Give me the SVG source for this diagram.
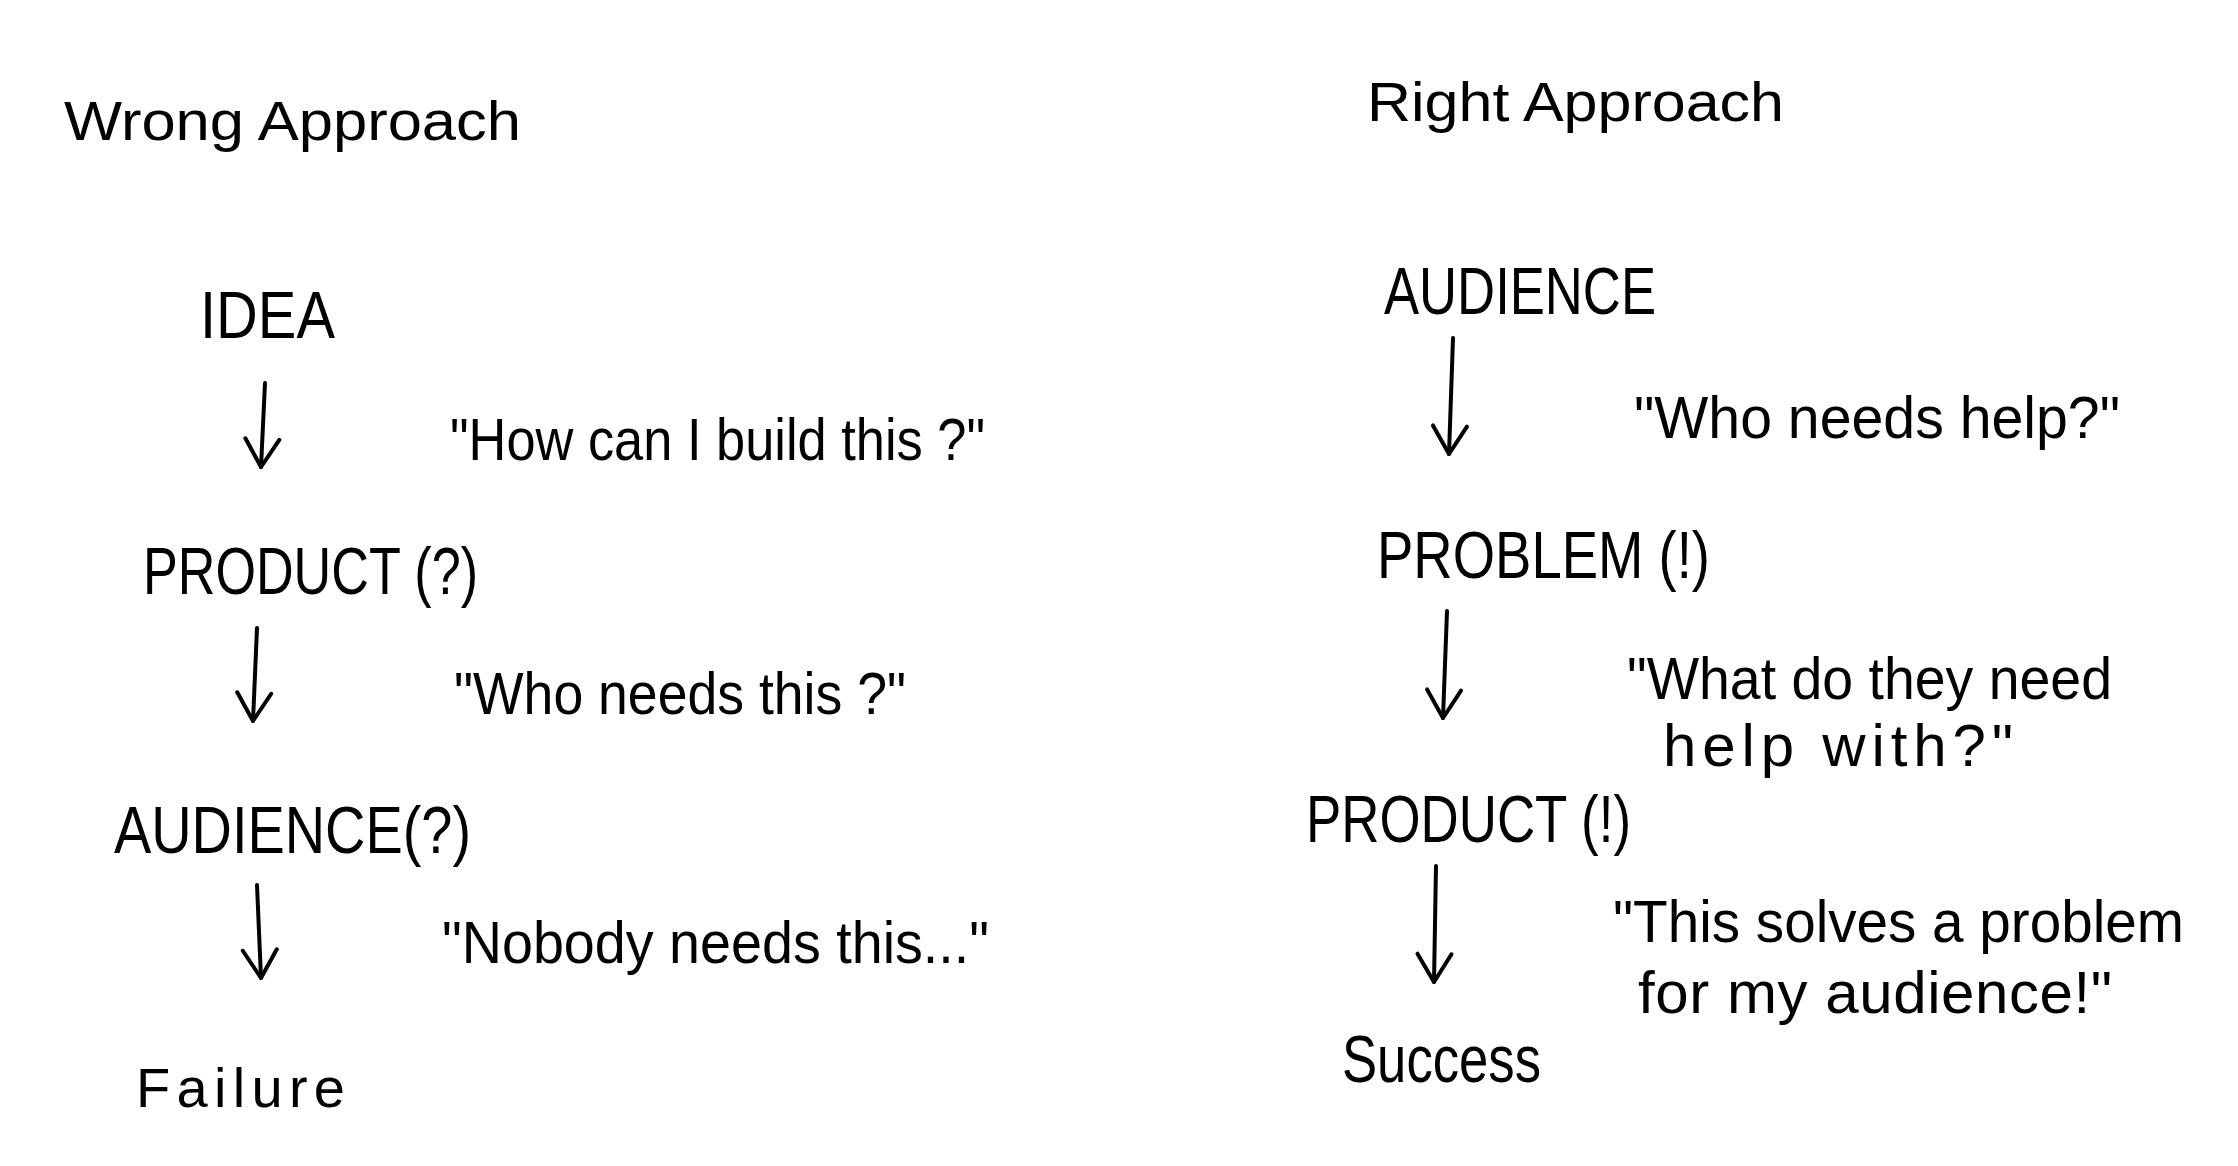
<svg xmlns="http://www.w3.org/2000/svg" width="2238" height="1166" viewBox="0 0 2238 1166">
<style>
  text { font-family: "Liberation Sans", "DejaVu Sans", sans-serif; fill: #000; }
  .hdr { font-size: 56px; }
  .node { font-size: 66px; }
  .quote { font-size: 60px; }
  .conn { stroke: #000; stroke-width: 4; fill: none; stroke-linecap: round; }
</style>
<defs>
  <marker id="arr" markerUnits="userSpaceOnUse" markerWidth="60" markerHeight="60" refX="0" refY="0" viewBox="-40 -30 50 60" orient="auto" overflow="visible">
    <path d="M -28 -17 L 0 0 L -28 17" fill="none" stroke="#000" stroke-width="4" stroke-linecap="round" stroke-linejoin="round"/>
  </marker>
</defs>
<rect width="2238" height="1166" fill="#fff"/>

<g id="wrong-header"><text class="hdr" x="64" y="140" textLength="457" lengthAdjust="spacingAndGlyphs">Wrong Approach</text></g>
<g id="w-idea"><text class="node" x="200" y="338" textLength="135" lengthAdjust="spacingAndGlyphs">IDEA</text></g>
<g id="w-product"><text class="node" x="143" y="594" textLength="335" lengthAdjust="spacingAndGlyphs">PRODUCT (?)</text></g>
<g id="w-audience"><text class="node" x="114" y="853" textLength="357" lengthAdjust="spacingAndGlyphs">AUDIENCE(?)</text></g>
<g id="w-failure"><text class="node" x="136" y="1107" style="font-size:56px" textLength="209" lengthAdjust="spacing">Failure</text></g>
<g id="w-q1"><text class="quote" x="450" y="460" textLength="535" lengthAdjust="spacingAndGlyphs">"How can I build this ?"</text></g>
<g id="w-q2"><text class="quote" x="454" y="714" textLength="452" lengthAdjust="spacingAndGlyphs">"Who needs this ?"</text></g>
<g id="w-q3"><text class="quote" x="442" y="963" textLength="547" lengthAdjust="spacingAndGlyphs">"Nobody needs this..."</text></g>

<g id="right-header"><text class="hdr" x="1367" y="121" textLength="417" lengthAdjust="spacingAndGlyphs">Right Approach</text></g>
<g id="r-audience"><text class="node" x="1384" y="314" textLength="272" lengthAdjust="spacingAndGlyphs">AUDIENCE</text></g>
<g id="r-problem"><text class="node" x="1377" y="578" textLength="333" lengthAdjust="spacingAndGlyphs">PROBLEM (!)</text></g>
<g id="r-product"><text class="node" x="1306" y="842" textLength="325" lengthAdjust="spacingAndGlyphs">PRODUCT (!)</text></g>
<g id="r-success"><text class="node" x="1342" y="1082" textLength="199" lengthAdjust="spacingAndGlyphs">Success</text></g>
<g id="r-q1"><text class="quote" x="1634" y="438" textLength="486" lengthAdjust="spacingAndGlyphs">"Who needs help?"</text></g>
<g id="r-q2">
  <text class="quote" x="1627" y="699" textLength="485" lengthAdjust="spacingAndGlyphs">"What do they need</text>
  <text class="quote" x="1663" y="766" textLength="350" lengthAdjust="spacing">help with?"</text>
</g>
<g id="r-q3">
  <text class="quote" x="1613" y="942" textLength="571" lengthAdjust="spacingAndGlyphs">"This solves a problem</text>
  <text class="quote" x="1638" y="1013" textLength="474" lengthAdjust="spacing">for my audience!"</text>
</g>

<g id="connectors">
  <path class="conn" d="M 265 383 L 261 467" marker-end="url(#arr)"/>
  <path class="conn" d="M 257 628 L 253 721" marker-end="url(#arr)"/>
  <path class="conn" d="M 257 885 L 261 978" marker-end="url(#arr)"/>
  <path class="conn" d="M 1453 338 L 1449 454" marker-end="url(#arr)"/>
  <path class="conn" d="M 1447 611 L 1443 718" marker-end="url(#arr)"/>
  <path class="conn" d="M 1436 866 L 1434 982" marker-end="url(#arr)"/>
</g>
</svg>
